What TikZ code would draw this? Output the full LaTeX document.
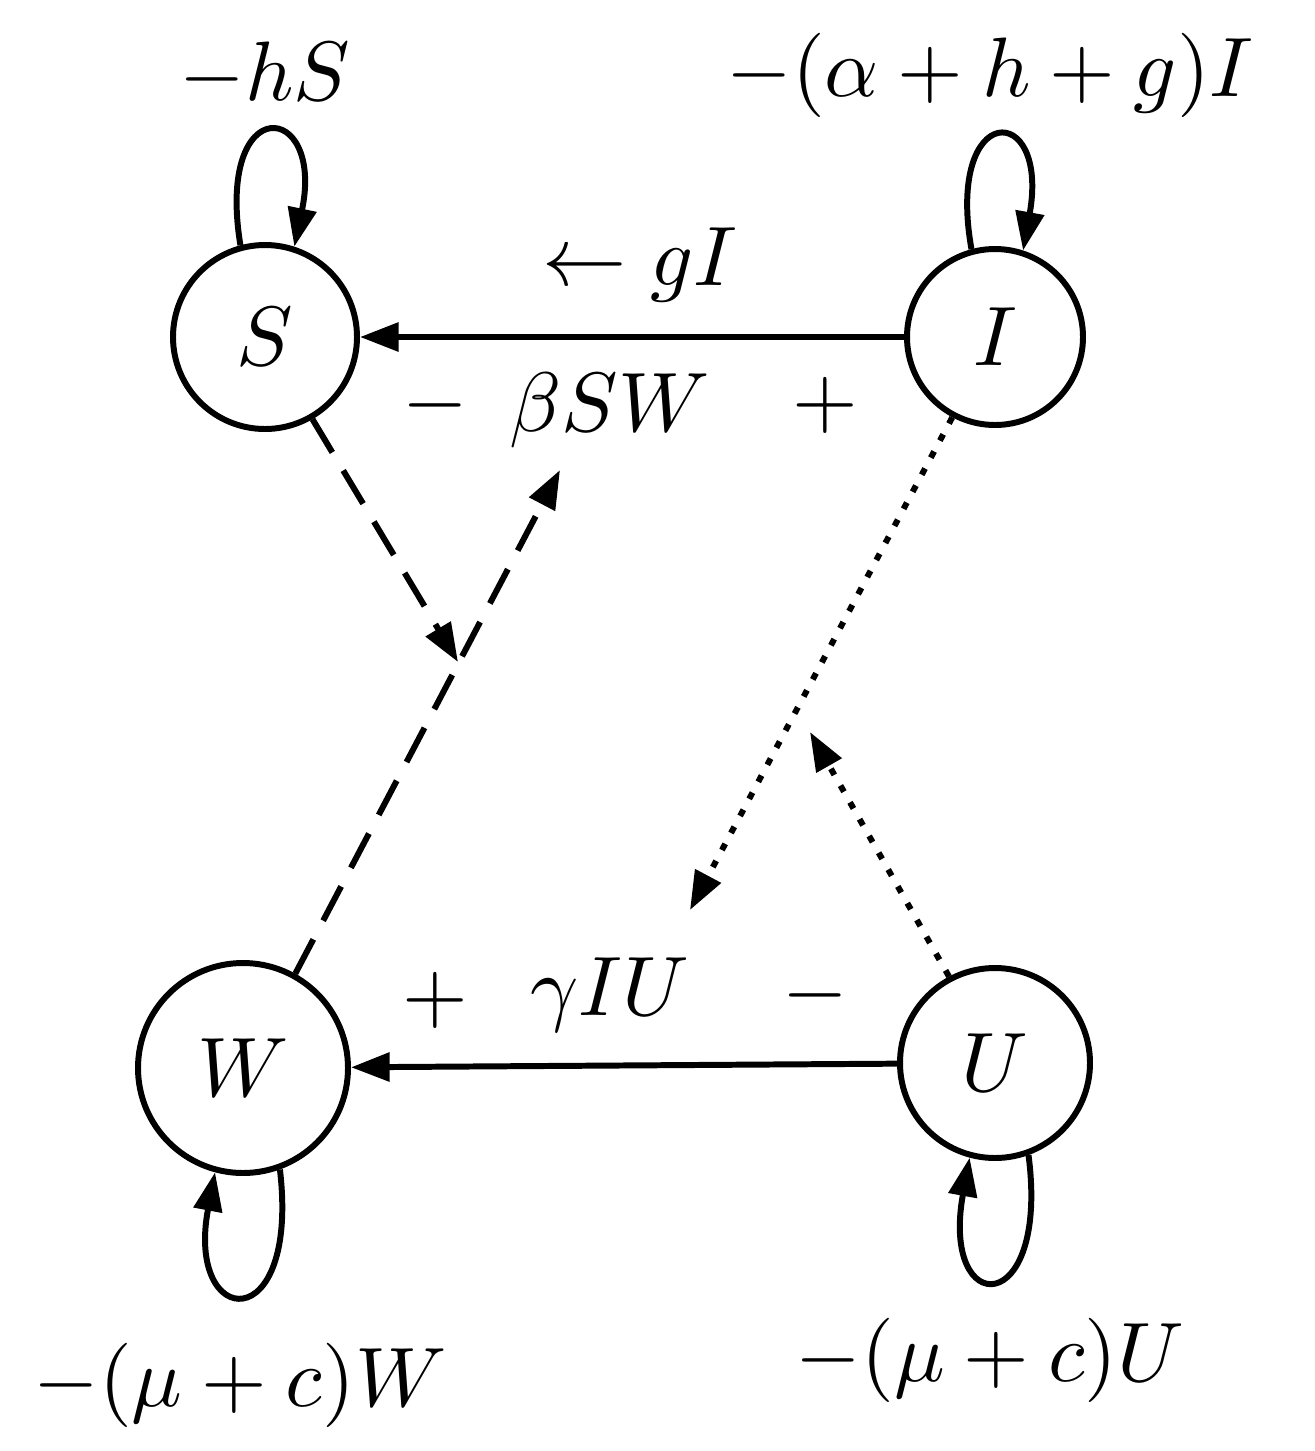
\documentclass[tikz,border=0pt]{standalone}
\usepackage{graphicx}
\usetikzlibrary{arrows.meta}
\newcommand{\bgt}[1]{\scalebox{4.8}{$#1$}}
\begin{document}
\begin{tikzpicture}[x=0.02cm,y=-0.02cm,
  st/.style={circle,draw,line width=3.4pt,inner sep=0pt},
  ln/.style={line width=3.4pt,-{Triangle[length=22pt,width=16pt]}},
  dl/.style={line width=3.4pt,-{Triangle[length=22pt,width=16pt]},{Triangle[length=22pt,width=16pt]}-}]
\useasboundingbox (0,0) rectangle (1315,1451);
\node[st,minimum size=184*0.02cm] (S) at (265,337) {\bgt{S}};
\node[st,minimum size=176*0.02cm] (I) at (995,337) {\bgt{I}};
\node[st,minimum size=210*0.02cm] (W) at (243,1068) {\bgt{W}};
\node[st,minimum size=190*0.02cm] (U) at (995,1063) {\bgt{U}};
\draw[dl] (S) -- (I);
\draw[dl] (W) -- (U);
\coordinate (a1) at (560,470);
\coordinate (a2) at (458,662);
\coordinate (b1) at (690,910);
\coordinate (b2) at (810,732);
\draw[ln,dash pattern=on 22pt off 12pt] (W.61) -- (a1);
\draw[ln,dash pattern=on 22pt off 12pt] (S.-60) -- (a2);
\draw[ln,dash pattern=on 4pt off 7pt] (I.-118) -- (b1);
\draw[ln,dash pattern=on 4pt off 7pt] (U.118) -- (b2);
\draw[ln] (S.105) .. controls (215,90) and (325,100) .. (S.72);
\draw[ln] (I.105) .. controls (945,100) and (1050,100) .. (I.72);
\draw[ln] (W.-70) .. controls (300,1340) and (185,1330) .. (W.-105);
\draw[ln] (U.-70) .. controls (1050,1320) and (940,1320) .. (U.-105);
\node (l1) at (265,75) {\bgt{-hS}};
\node (l2) at (990,75) {\bgt{-(\alpha+h+g)I}};
\node (l3) at (640,265) {\bgt{\leftarrow gI}};
\node (l4) at (435,405) {\bgt{-}};
\node (l5) at (610,410) {\bgt{\beta SW}};
\node (l6) at (825,405) {\bgt{+}};
\node (l7) at (435,1000) {\bgt{+}};
\node (l8) at (610,995) {\bgt{\gamma IU}};
\node (l9) at (815,995) {\bgt{-}};
\node (l10) at (240,1385) {\bgt{-(\mu+c)W}};
\node (l11) at (990,1360) {\bgt{-(\mu+c)U}};
\end{tikzpicture}
\end{document}
